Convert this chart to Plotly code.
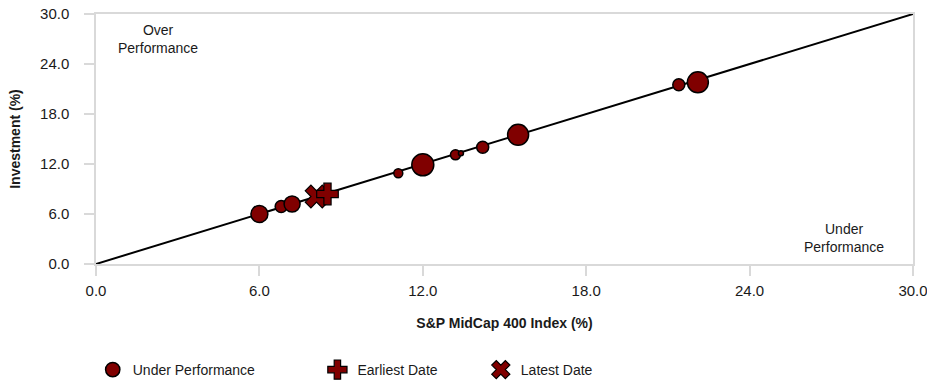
import plotly.graph_objects as go

# ---- data ----
index_ret = [6.0, 6.8, 7.2, 11.1, 12.0, 13.2, 13.4, 14.2, 15.5, 21.4, 22.1]
invest_ret = [6.0, 6.9, 7.2, 10.9, 11.9, 13.1, 13.3, 14.0, 15.5, 21.5, 21.8]
weight = [17, 12, 16, 9, 22, 10, 5, 12, 21, 12, 21]

earliest_x = [8.5]
earliest_y = [8.4]
latest_x = [8.1]
latest_y = [8.1]

diag = [0, 30]
ticks = [0, 6, 12, 18, 24, 30]
tick_text = ["0.0", "6.0", "12.0", "18.0", "24.0", "30.0"]

DARK_RED = "#800000"
FONT = "Arial, Liberation Sans, sans-serif"
TXT = "#1a1a1a"

fig = go.Figure()

fig.add_trace(go.Scatter(x=diag, y=diag, mode="lines",
                         line=dict(color="black", width=2),
                         showlegend=False, hoverinfo="skip"))

fig.add_trace(go.Scatter(x=index_ret, y=invest_ret, mode="markers",
                         name="Under Performance",
                         marker=dict(color=DARK_RED, size=weight, sizemode="diameter",
                                     opacity=1,
                                     line=dict(color="black", width=1.5)),
                         legend="legend"))

fig.add_trace(go.Scatter(x=latest_x, y=latest_y, mode="markers",
                         name="Latest Date",
                         marker=dict(symbol="x", color=DARK_RED, size=20, opacity=1,
                                     line=dict(color="black", width=1.2)),
                         legend="legend3"))

fig.add_trace(go.Scatter(x=earliest_x, y=earliest_y, mode="markers",
                         name="Earliest Date",
                         marker=dict(symbol="cross", color=DARK_RED, size=18, opacity=1,
                                     line=dict(color="black", width=1.2)),
                         legend="legend2"))

axis_common = dict(range=[0, 30], tickvals=ticks, ticktext=tick_text,
                   showgrid=False, zeroline=False, showline=True, mirror=True,
                   linecolor="#d9d9d9", linewidth=1.5, automargin=False,
                   ticklabeloverflow="allow",
                   ticks="outside", ticklen=10, tickcolor="#d9d9d9", tickwidth=1.5,
                   tickfont=dict(family=FONT, size=15, color=TXT))

fig.update_xaxes(**axis_common, ticklabelstandoff=2,
                 title=dict(text="<b>S&P MidCap 400 Index (%)</b>",
                            font=dict(family=FONT, size=14, color=TXT), standoff=20))
fig.update_yaxes(**axis_common, ticklabelstandoff=12,
                 title=dict(text="<b>Investment (%)</b>",
                            font=dict(family=FONT, size=14, color=TXT), standoff=16))

legend_common = dict(orientation="h", yanchor="middle", y=-0.424, xanchor="left",
                     font=dict(family=FONT, size=14, color=TXT),
                     bgcolor="rgba(0,0,0,0)")

# figure placed at (0, 0) (body margin removed); extra height below the window is clipped
fig.update_layout(
    width=927, height=400,
    margin=dict(l=96, r=14, t=14, b=136),
    paper_bgcolor="white", plot_bgcolor="white",
    legend=dict(**legend_common, x=-0.004),
    legend2=dict(**legend_common, x=0.271),
    legend3=dict(**legend_common, x=0.471),
    annotations=[
        dict(x=0.0757, y=0.975, xref="paper", yref="paper", text="Over<br>Performance",
             showarrow=False, xanchor="center", yanchor="top",
             font=dict(family=FONT, size=14, color=TXT)),
        dict(x=0.9155, y=0.028, xref="paper", yref="paper", text="Under<br>Performance",
             showarrow=False, xanchor="center", yanchor="bottom",
             font=dict(family=FONT, size=14, color=TXT)),
    ],
)

fig.write_html("out.html", config={"displayModeBar": False},
               post_script="document.body.style.margin='0';")
